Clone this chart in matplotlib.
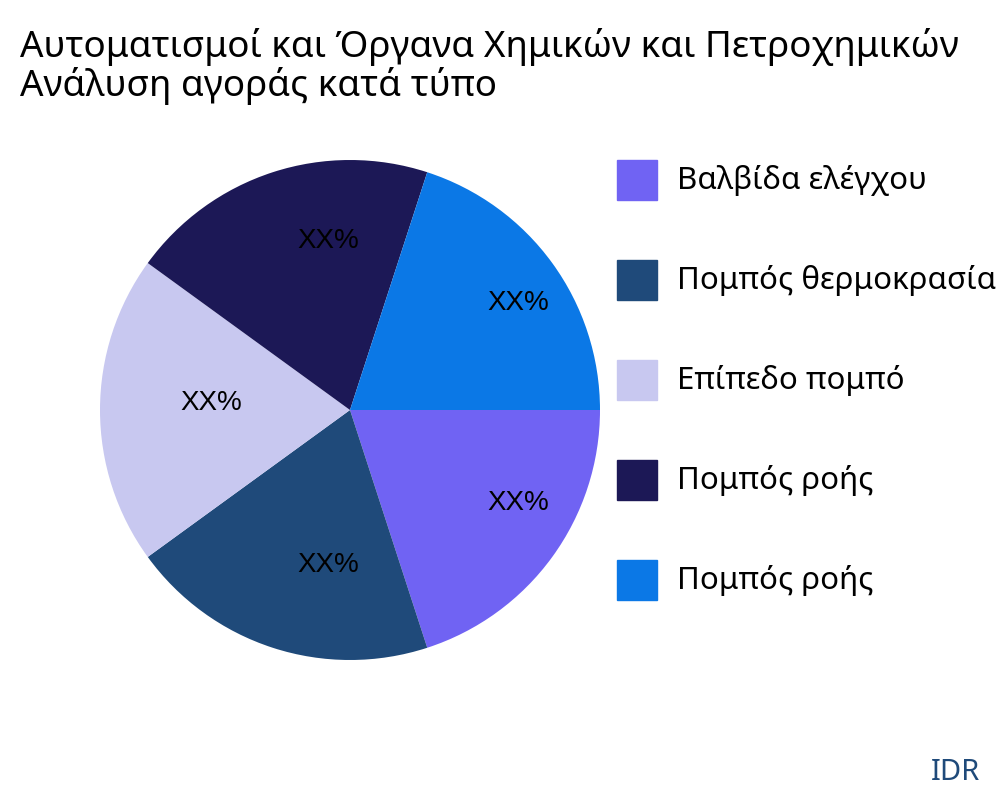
import matplotlib.pyplot as plt
from matplotlib.patches import Rectangle

labels = ["Βαλβίδα ελέγχου", "Πομπός θερμοκρασία", "Επίπεδο πομπό", "Πομπός ροής", "Πομπός ροής"]
values = [20, 20, 20, 20, 20]
colors = ["#7063F3", "#1F4A7A", "#C8C8F0", "#1C1856", "#0B78E6"]

plt.rcParams["font.family"] = ["Noto Sans", "DejaVu Sans"]

fig = plt.figure(figsize=(10, 8), dpi=100)
ax = fig.add_axes([0.1, 0.175, 0.5, 0.625])
wedges, texts, autotexts = ax.pie(values, colors=colors, startangle=0, counterclock=False,
       autopct=lambda p: "XX%", pctdistance=0.68,
       textprops=dict(family="Liberation Sans", fontsize=20, color="black"))
for t in autotexts:
    t.set_ha("left")
    t.set_va("baseline")
ax.set_xlim(-1, 1)
ax.set_ylim(-1, 1)
ax.set_aspect("equal")

fig.text(0.02, 0.965, "Αυτοματισμοί και Όργανα Χημικών και Πετροχημικών\nΑνάλυση αγοράς κατά τύπο",
         fontsize=26.5, va="top", ha="left", linespacing=1.05)

for i, (lab, col) in enumerate(zip(labels, colors)):
    yc = 1 - (180 + 100 * i) / 800
    fig.patches.append(Rectangle((0.617, yc - 0.025), 0.04, 0.05, color=col,
                                 transform=fig.transFigure))
    fig.text(0.677, yc, lab, fontsize=22.5, va="center", ha="left")

fig.text(0.98, 0.035, "IDR", fontsize=21, color="#1F4A7A", ha="right", va="center")
fig.savefig("out.png")
